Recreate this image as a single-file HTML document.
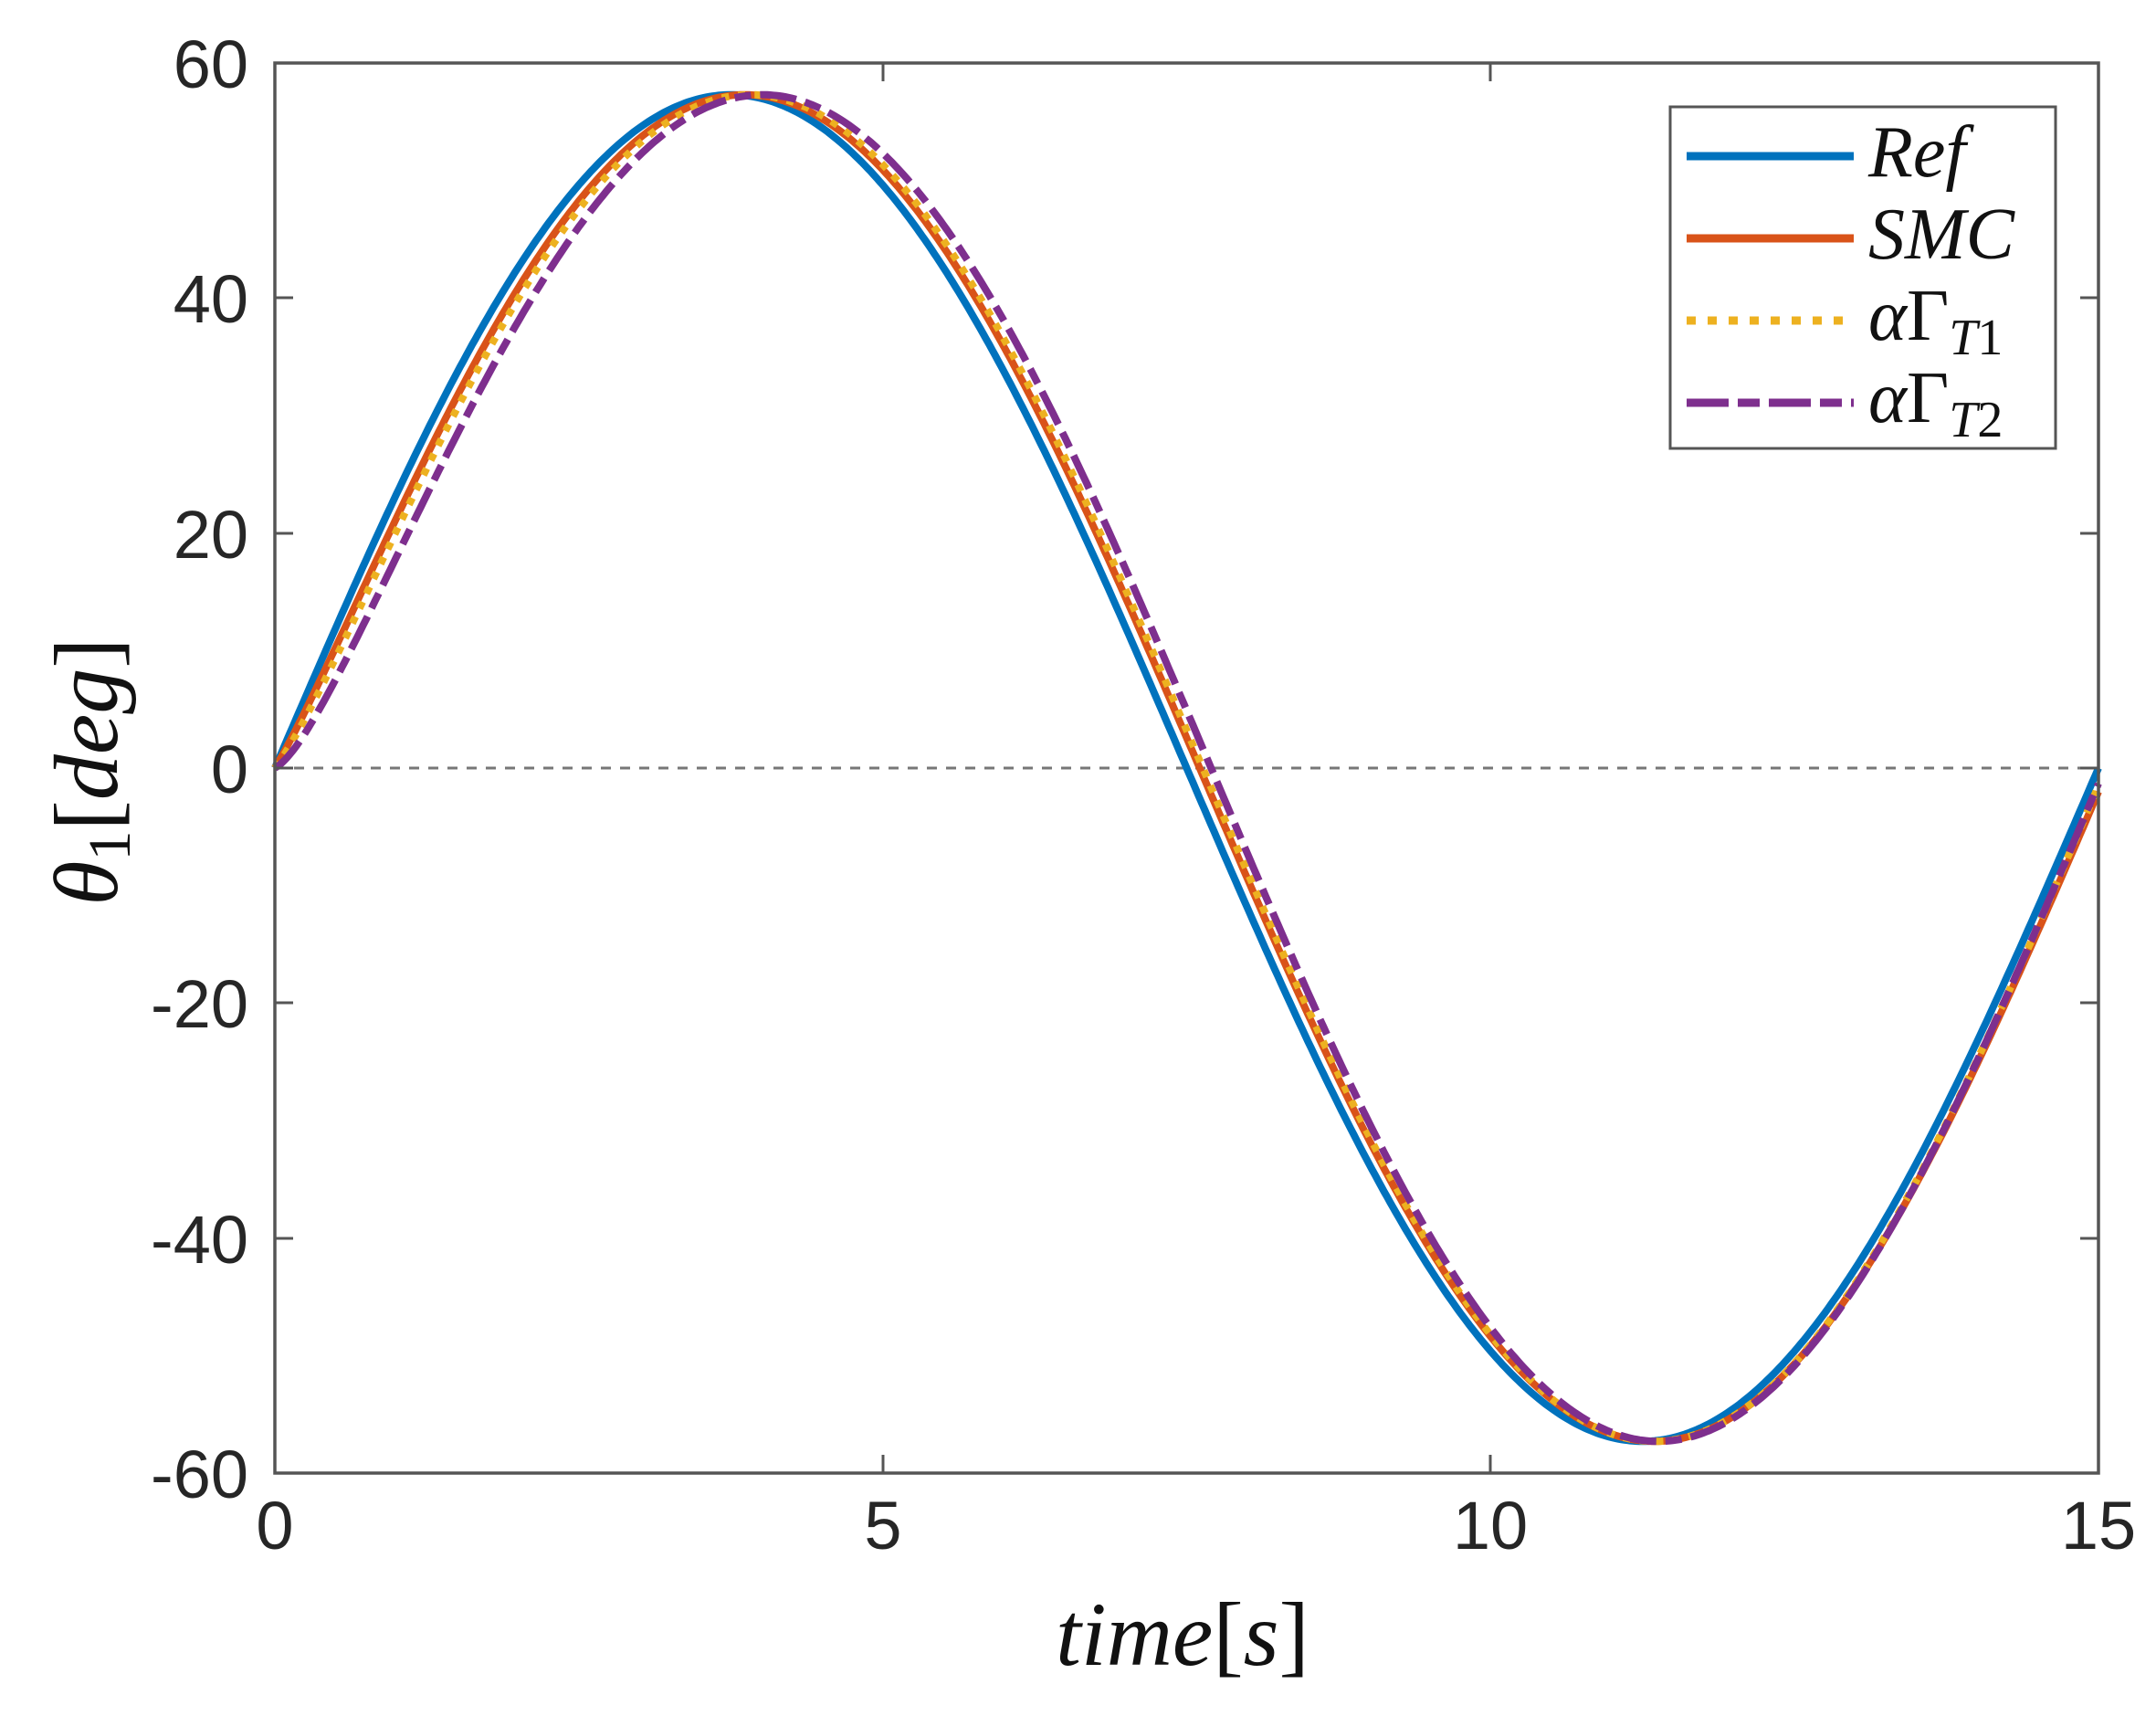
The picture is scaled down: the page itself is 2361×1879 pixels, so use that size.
<!DOCTYPE html>
<html><head><meta charset="utf-8">
<style>
html,body{margin:0;padding:0;background:#fff;}
svg{display:block;}
</style></head>
<body>
<svg id="s" width="2361" height="1879" viewBox="0 0 2361 1879" xmlns="http://www.w3.org/2000/svg">
<rect width="2361" height="1879" fill="#fff"/>
<line x1="301" y1="841" x2="2298" y2="841" stroke="#777" stroke-width="3" stroke-dasharray="11,10"/>
<g id="curves" fill="none" stroke-width="8"></g>
<rect x="301" y="69" width="1997" height="1544" fill="none" stroke="#555" stroke-width="3.5"/>
<g stroke="#555" stroke-width="3">
<line x1="301" y1="69" x2="321" y2="69"/><line x1="301" y1="326" x2="321" y2="326"/><line x1="301" y1="584" x2="321" y2="584"/><line x1="301" y1="841" x2="321" y2="841"/><line x1="301" y1="1098" x2="321" y2="1098"/><line x1="301" y1="1356" x2="321" y2="1356"/>
<line x1="2298" y1="326" x2="2278" y2="326"/><line x1="2298" y1="584" x2="2278" y2="584"/><line x1="2298" y1="841" x2="2278" y2="841"/><line x1="2298" y1="1098" x2="2278" y2="1098"/><line x1="2298" y1="1356" x2="2278" y2="1356"/>
<line x1="967" y1="1613" x2="967" y2="1593"/><line x1="1632" y1="1613" x2="1632" y2="1593"/>
<line x1="967" y1="69" x2="967" y2="89"/><line x1="1632" y1="69" x2="1632" y2="89"/>
</g>
<g font-family="Liberation Sans, sans-serif" font-size="74" fill="#262626" text-anchor="end">
<text x="272" y="96">60</text><text x="272" y="353">40</text><text x="272" y="611">20</text><text x="272" y="868">0</text><text x="272" y="1125">-20</text><text x="272" y="1383">-40</text><text x="272" y="1640">-60</text>
</g>
<g font-family="Liberation Sans, sans-serif" font-size="74" fill="#262626" text-anchor="middle">
<text x="301" y="1696">0</text><text x="967" y="1696">5</text><text x="1632" y="1696">10</text><text x="2298" y="1696">15</text>
</g>
<text x="1295" y="1823" text-anchor="middle" font-family="Liberation Serif, serif" font-style="italic" font-size="100" fill="#111">time<tspan font-style="normal">[</tspan>s<tspan font-style="normal">]</tspan></text>
<text transform="translate(128,845) rotate(-90)" text-anchor="middle" font-family="Liberation Serif, serif" font-style="italic" font-size="100" fill="#111">θ<tspan font-style="normal" font-size="66" dy="14">1</tspan><tspan font-style="normal" dy="-14">[</tspan>deg<tspan font-style="normal">]</tspan></text>
<rect x="1829" y="117" width="422" height="374" fill="#fff" stroke="#555" stroke-width="3"/>
<line x1="1847" y1="171" x2="2030" y2="171" stroke="#0072BD" stroke-width="9"/>
<line x1="1847" y1="261" x2="2030" y2="261" stroke="#D95319" stroke-width="9"/>
<line x1="1847" y1="351" x2="2030" y2="351" stroke="#EDB120" stroke-width="9" stroke-dasharray="10,13"/>
<line x1="1847" y1="441" x2="2030" y2="441" stroke="#7E2F8E" stroke-width="9" stroke-dasharray="46,10,24,10"/>
<g font-family="Liberation Serif, serif" font-style="italic" font-size="80" fill="#111">
<text x="2046" y="193">Ref</text>
<text x="2046" y="283">SMC</text>
<text x="2046" y="372">α<tspan font-style="normal">Γ</tspan><tspan font-size="56" dy="16">T</tspan><tspan font-style="normal" font-size="56">1</tspan></text>
<text x="2046" y="462">α<tspan font-style="normal">Γ</tspan><tspan font-size="56" dy="16">T</tspan><tspan font-style="normal" font-size="56">2</tspan></text>
</g>
</svg>
<script>
(function(){
var A=57.3, w=2*Math.PI/15;
function X(t){return 301+t/15*1997;}
function Y(v){return 841-v/60*772;}
function path(d0,k,end){
  var p="";
  for(var i=0;i<=600;i++){
    var t=15*i/600;
    var d=d0*(t/(t+0.5))*(1-k*t/15)+end*(t/15);
    var v=A*Math.sin(w*(t-d));
    p+=(i?"L":"M")+X(t).toFixed(1)+","+Y(v).toFixed(1);
  }
  return p;
}
var specs=[
 ["#0072BD",0,0,0,""],
 ["#D95319",0.14,0.75,0.05,""],
 ["#EDB120",0.22,0.8,0.02,"8,10"],
 ["#7E2F8E",0.38,0.85,0.0,"40,10,18,10"]
];
var g=document.getElementById("curves");
specs.forEach(function(s){
  var e=document.createElementNS("http://www.w3.org/2000/svg","path");
  e.setAttribute("d",path(s[1],s[2],s[3]));
  e.setAttribute("stroke",s[0]);
  if(s[4])e.setAttribute("stroke-dasharray",s[4]);
  g.appendChild(e);
});
})();
</script>
</body></html>
